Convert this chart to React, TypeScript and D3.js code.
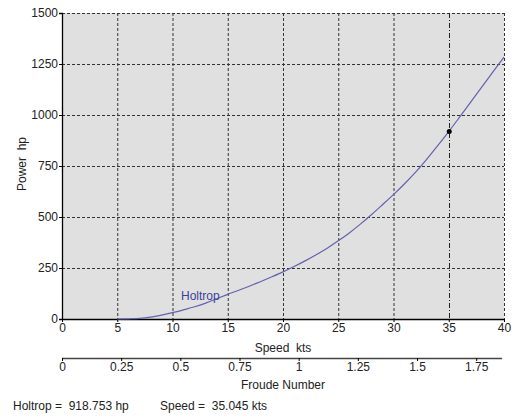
import React, { useRef, useEffect } from 'react';
import * as d3 from 'd3';

const speeds = [5, 6, 7, 8, 9, 10, 11, 12, 13, 14, 15, 16, 17, 18, 19, 20, 21, 22, 23, 24, 25, 26, 27, 28, 29, 30, 31, 32, 33, 34, 35, 36, 37, 38, 39, 40];
const power = [0, 1, 3, 9, 19, 31, 45, 60, 78, 99, 121, 141, 162, 184, 207, 231, 257, 285, 315, 347, 383, 422, 465, 511, 560, 610, 663, 720, 783, 850, 919, 991, 1064, 1138, 1211, 1284];
const speedTicks = [0, 5, 10, 15, 20, 25, 30, 35, 40];
const powerTicks = [0, 250, 500, 750, 1000, 1250, 1500];
const froudeTicks = [0, 0.25, 0.5, 0.75, 1, 1.25, 1.5, 1.75];
const froudeMax = 1.859;
const cursor = { speed: 35.045, power: 918.753 };

const App = () => {
    const svgRef = useRef<SVGSVGElement>(null);

    useEffect(() => {
        const width = 518, height = 418;
        const left = 62, right = 504, top = 13, bottom = 319;
        const font = 'Liberation Sans, Arial, sans-serif';

        const svg = d3.select(svgRef.current);
        svg.selectAll('*').remove();
        svg.attr('width', width).attr('height', height);

        const x = d3.scaleLinear().domain([0, 40]).range([left, right]);
        const y = d3.scaleLinear().domain([0, 1500]).range([bottom, top]);
        const fx = d3.scaleLinear().domain([0, froudeMax]).range([left, right - 2]);

        svg.append('rect')
            .attr('x', left).attr('y', top)
            .attr('width', right - left).attr('height', bottom - top)
            .attr('fill', '#e0e0e0');

        // grid (the cursor line stands in for the 35 kts gridline)
        svg.append('g').selectAll('line')
            .data(powerTicks.slice(1))
            .enter().append('line')
            .attr('x1', left).attr('x2', right)
            .attr('y1', (d) => y(d) + 0.5).attr('y2', (d) => y(d) + 0.5)
            .attr('stroke', '#333').attr('stroke-dasharray', '3,2');
        svg.append('g').selectAll('line')
            .data(speedTicks.slice(1).filter((d) => d !== 35))
            .enter().append('line')
            .attr('x1', (d) => x(d) + 0.5).attr('x2', (d) => x(d) + 0.5)
            .attr('y1', top).attr('y2', bottom)
            .attr('stroke', '#333').attr('stroke-dasharray', '3,2');

        // cursor line, dash-dot
        const cx = Math.round(x(cursor.speed)) + 0.5;
        svg.append('path')
            .attr('d', `M${cx},${top}V${bottom}`)
            .attr('fill', 'none')
            .attr('stroke', '#222')
            .attr('stroke-width', 1)
            .attr('stroke-dasharray', '5 2 1 2');

        // axes
        const yAxis = svg.append('g')
            .attr('transform', `translate(${left},0)`)
            .call(d3.axisLeft(y).tickValues(powerTicks).tickSize(3).tickPadding(1).tickFormat(d3.format('d')));
        const xAxis = svg.append('g')
            .attr('transform', `translate(0,${bottom})`)
            .call(d3.axisBottom(x).tickValues(speedTicks).tickSize(3).tickPadding(1).tickFormat(d3.format('d')));
        const fAxis = svg.append('g')
            .attr('transform', `translate(0,358)`)
            .call(d3.axisBottom(fx).tickValues(froudeTicks).tickSize(3).tickPadding(1).tickFormat((d) => String(d)));

        [yAxis, xAxis, fAxis].forEach((g) => {
            g.select('.domain').attr('stroke', '#000').attr('stroke-width', 1.3);
            g.selectAll('.tick line').attr('stroke', '#000');
            g.selectAll('text').attr('font-family', font).attr('font-size', 12).attr('fill', '#222');
        });
        xAxis.select('.domain').attr('d', `M${left},0.5H${right}`);
        fAxis.select('.domain').attr('d', `M${left},0.5H${right - 2}`).attr('stroke', '#444');

        // curve
        const line = d3.line<number>()
            .x((d, i) => x(speeds[i]))
            .y((d) => y(d))
            .curve(d3.curveMonotoneX);
        svg.append('path')
            .datum(power)
            .attr('d', line)
            .attr('fill', 'none')
            .attr('stroke', '#6262ae')
            .attr('stroke-width', 1.2);

        svg.append('circle')
            .attr('cx', x(cursor.speed)).attr('cy', y(cursor.power))
            .attr('r', 2.5).attr('fill', '#000');

        svg.append('text')
            .attr('x', 181).attr('y', 300)
            .attr('font-family', font).attr('font-size', 12)
            .attr('fill', '#3e3e9a')
            .text('Holtrop');

        svg.append('text')
            .attr('transform', `translate(26,164) rotate(-90)`)
            .attr('text-anchor', 'middle')
            .attr('font-family', font).attr('font-size', 12).attr('fill', '#222')
            .attr('xml:space', 'preserve')
            .text('Power  hp');

        svg.append('text')
            .attr('x', (left + right) / 2).attr('y', 352)
            .attr('text-anchor', 'middle')
            .attr('font-family', font).attr('font-size', 12).attr('fill', '#222')
            .attr('xml:space', 'preserve')
            .text('Speed  kts');

        svg.append('text')
            .attr('x', (left + right) / 2).attr('y', 389)
            .attr('text-anchor', 'middle')
            .attr('font-family', font).attr('font-size', 12).attr('fill', '#222')
            .text('Froude Number');

        svg.append('text')
            .attr('x', 13).attr('y', 410)
            .attr('font-family', font).attr('font-size', 12).attr('fill', '#222')
            .attr('xml:space', 'preserve')
            .text(`Holtrop =  ${cursor.power} hp`);
        svg.append('text')
            .attr('x', 160).attr('y', 410)
            .attr('font-family', font).attr('font-size', 12).attr('fill', '#222')
            .attr('xml:space', 'preserve')
            .text(`Speed =  ${cursor.speed} kts`);
    }, []);

    return (
        <svg ref={svgRef} style={{ position: 'absolute', left: 0, top: 0 }}></svg>
    );
};

export default App;
